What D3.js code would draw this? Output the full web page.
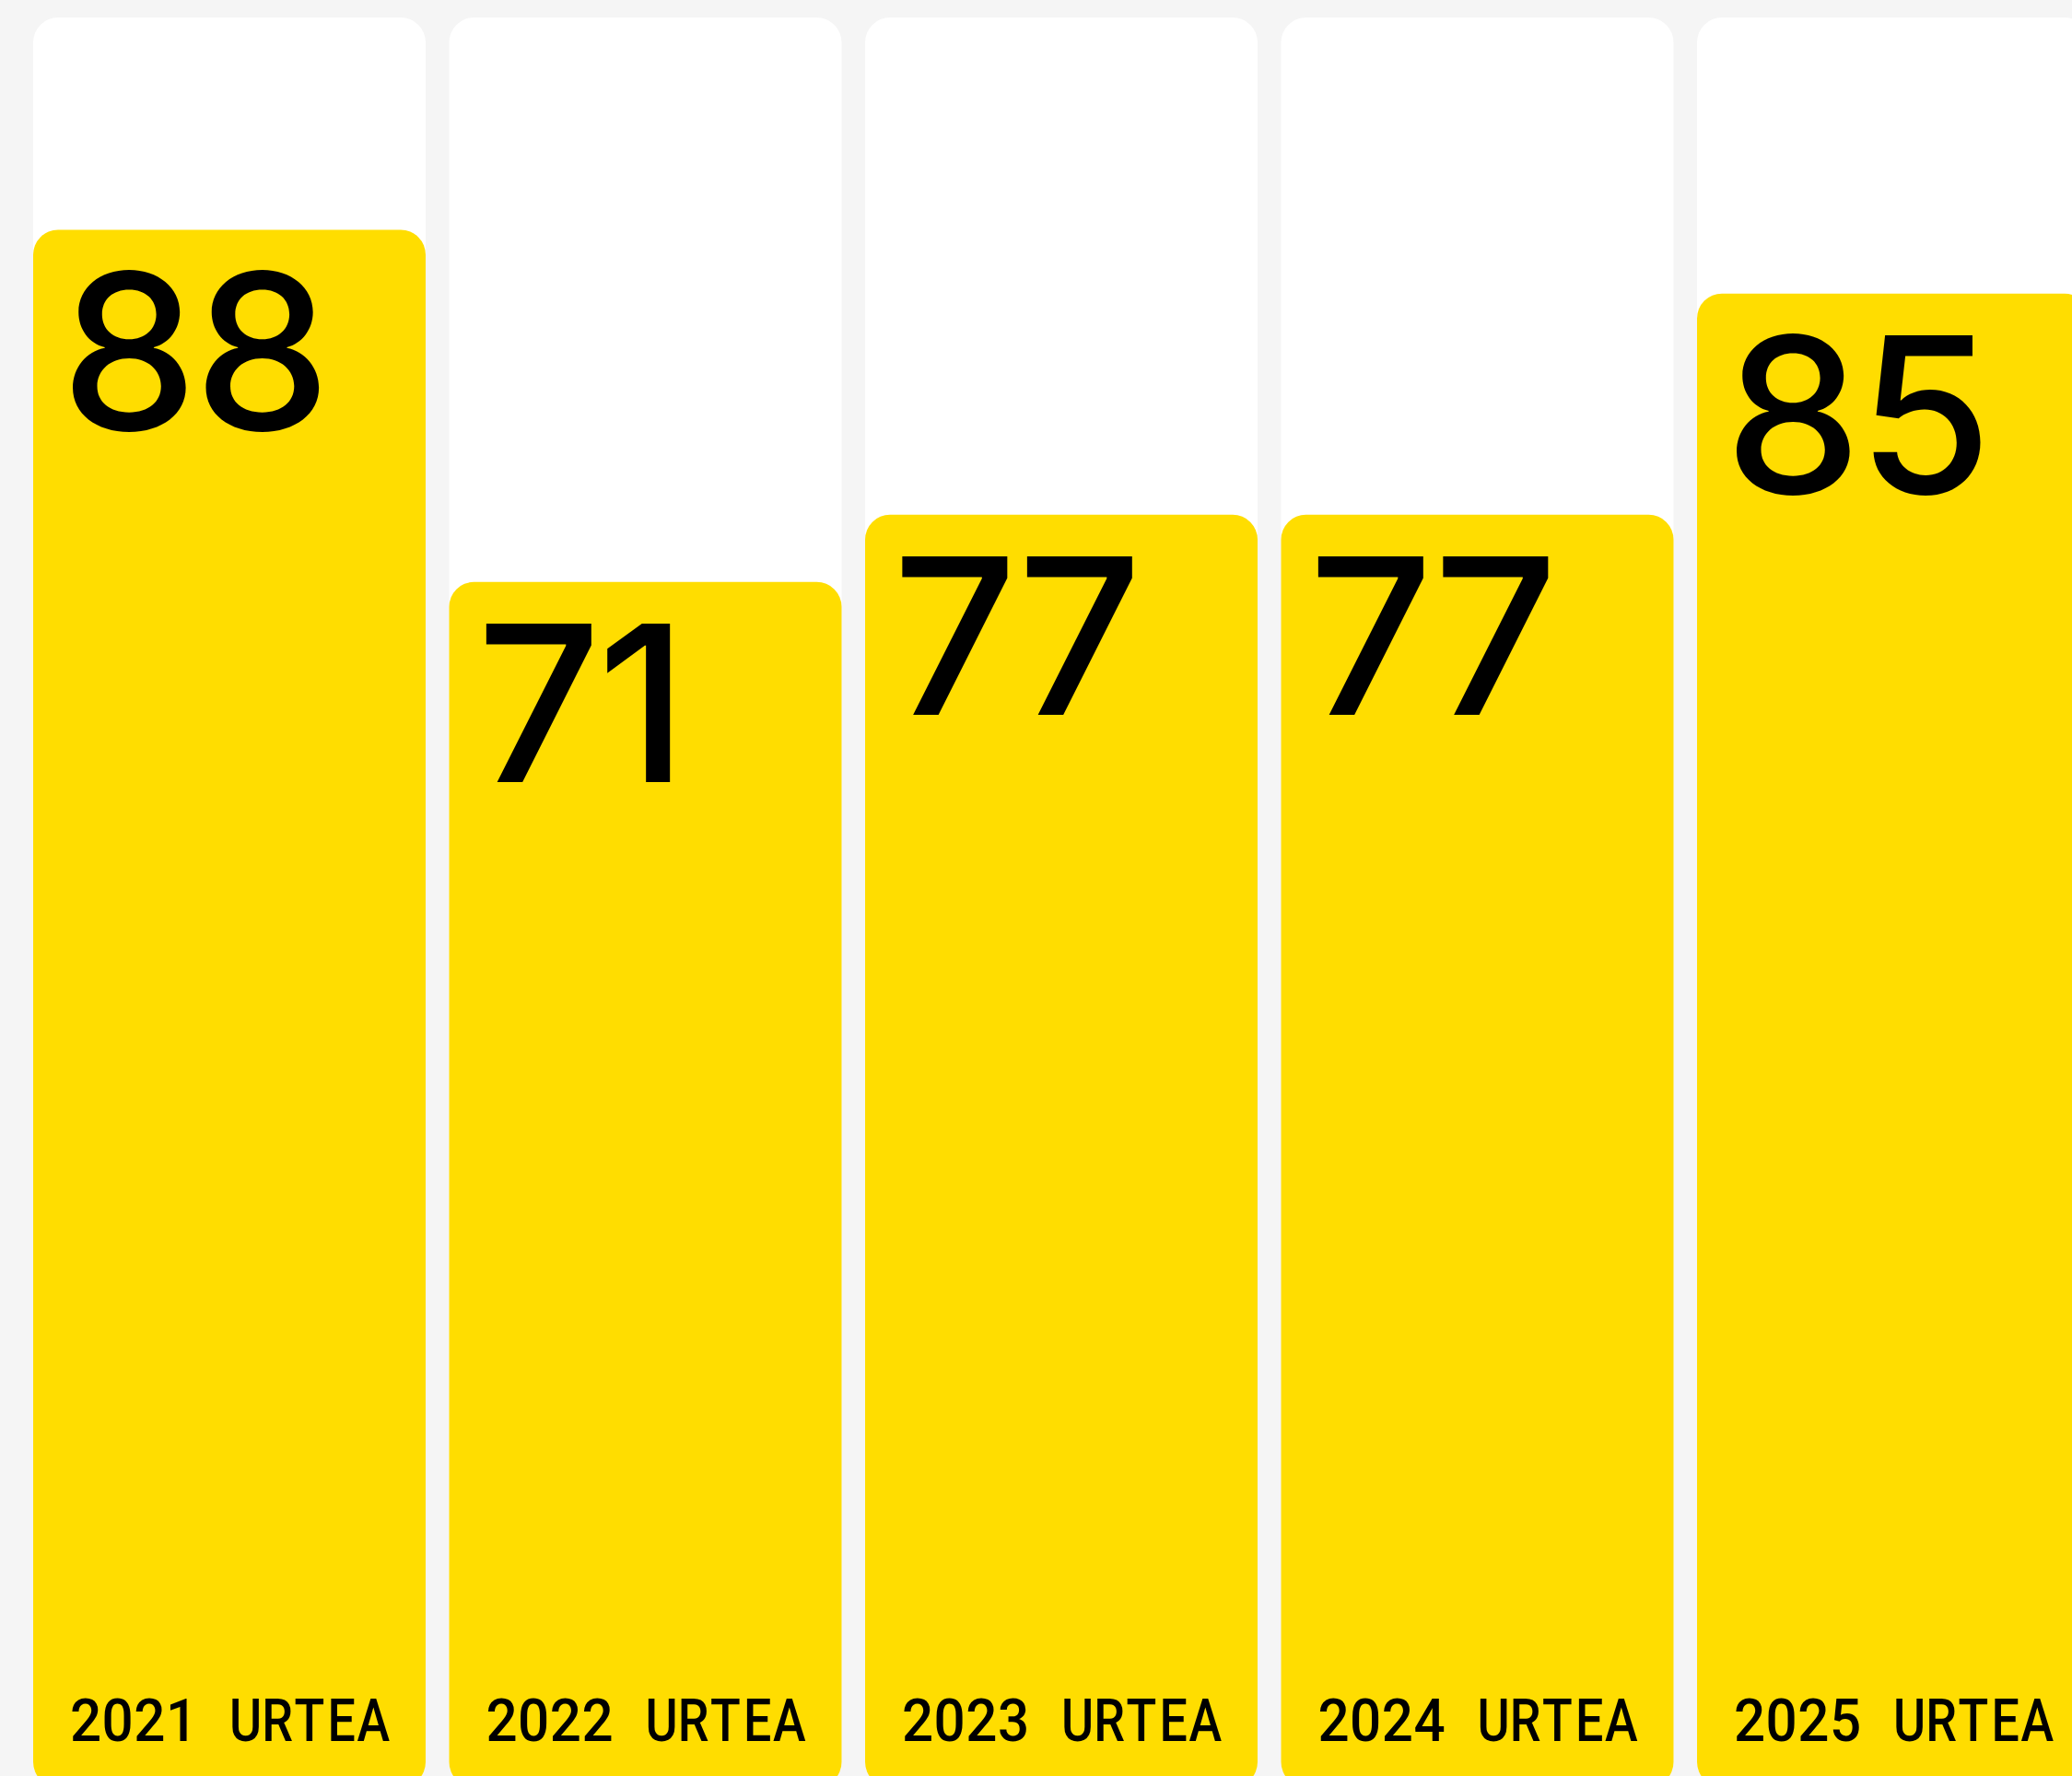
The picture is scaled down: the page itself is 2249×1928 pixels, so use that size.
<!DOCTYPE html>
<html>
<head>
<meta charset="utf-8">
<script src="https://cdn.jsdelivr.net/npm/d3@7"></script>
<style>
    html, body { margin: 0; padding: 0; background: #f5f5f5; overflow: hidden; }
    svg { display: block; }
    .value { font-family: Inter, "Liberation Sans", sans-serif; font-size: 236px; font-weight: 500; letter-spacing: -4px; fill: #000; }
    .year { font-family: Roboto, sans-serif; font-size: 64px; font-weight: 500; fill: #000; text-anchor: middle; }
</style>
</head>
<body>
<svg width="2249" height="1928"></svg>
<script>
// data
const years = ["2021", "2022", "2023", "2024", "2025"];
const values = [88, 71, 77, 77, 85];          // printed numbers
const fillShare = [88, 68.1, 71.9, 71.9, 84.4]; // height of the yellow bar, % of column
const suffix = "URTEA";

const svg = d3.select("svg");
const width = 2249, height = 1928;

// 1. column positions
const xScale = d3.scaleBand()
    .domain(years)
    .range([36, 2268])
    .paddingInner(0.0565)
    .paddingOuter(0);

// 2. column height: 0 at bottom (below the picture edge), 100 at the column top
const yScale = d3.scaleLinear()
    .domain([0, 100])
    .range([1940, 19]);

const rows = years.map((y, i) => ({ year: y, value: values[i], share: fillShare[i] }));

svg.append("rect")
    .attr("width", width)
    .attr("height", height)
    .attr("fill", "#f5f5f5");

const colG = svg.selectAll("g.col")
    .data(rows)
    .enter()
    .append("g")
    .attr("class", "col")
    .attr("transform", d => "translate(" + xScale(d.year) + ",0)");

// 3. white background column
colG.append("rect")
    .attr("x", 0)
    .attr("y", yScale(100))
    .attr("width", xScale.bandwidth())
    .attr("height", yScale(0) - yScale(100))
    .attr("rx", 27)
    .attr("fill", "#ffffff");

// 4. yellow bar
colG.append("rect")
    .attr("x", 0)
    .attr("y", d => yScale(d.share))
    .attr("width", xScale.bandwidth())
    .attr("height", d => yScale(0) - yScale(d.share))
    .attr("rx", 27)
    .attr("fill", "#ffdd00");

// 5. big number
colG.append("text")
    .attr("class", "value")
    .attr("x", 30)
    .attr("y", d => yScale(d.share) + 217)
    .text(d => d.value);

// 6. year label at the bottom, one glyph per monospace cell
//    (letters squeezed a bit so they keep to their cell like a mono face)
const cell = 34.7;
colG.append("g")
    .attr("class", "yearLabel")
    .selectAll("text")
    .data(d => (d.year + " " + suffix).split("").map((c, i) => ({ c: c, i: i })).filter(g => g.c !== " "))
    .enter()
    .append("text")
    .attr("class", "year")
    .attr("transform", g => {
        const sx = /[0-9]/.test(g.c) ? 0.94 : 0.84;
        return "translate(" + (57 + g.i * cell) + ",1890) scale(" + sx + ",1)";
    })
    .text(g => g.c);
</script>
</body>
</html>
